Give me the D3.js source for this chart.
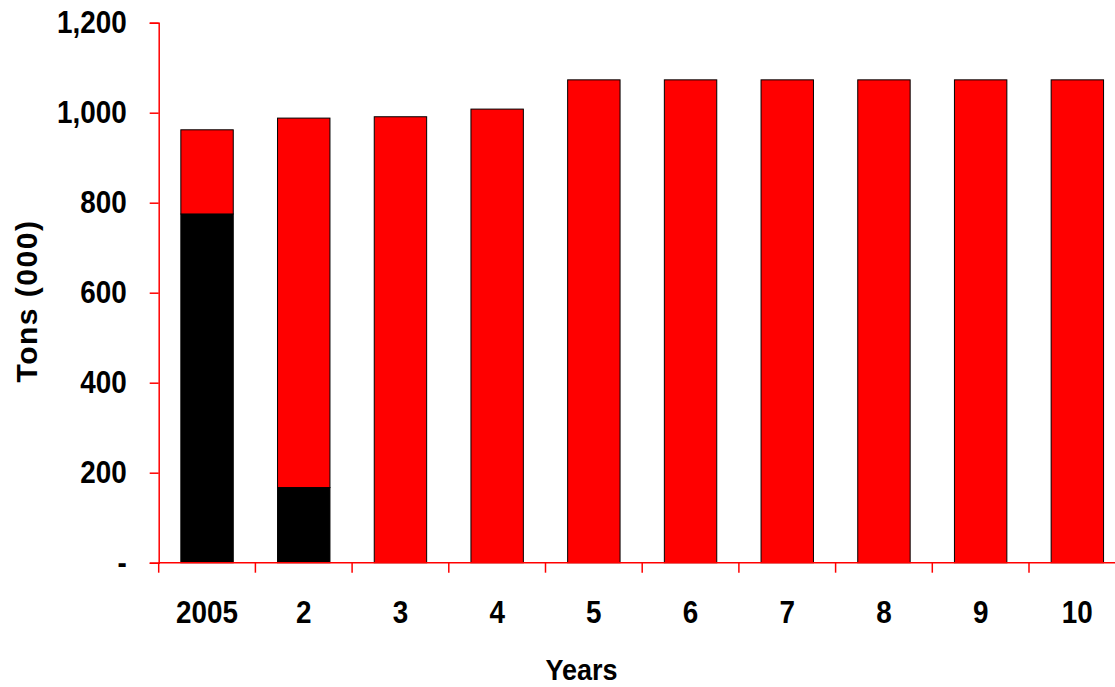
<!DOCTYPE html>
<html>
<head>
<meta charset="utf-8">
<script src="https://cdn.jsdelivr.net/npm/d3@7"></script>
<style>
  html, body { margin: 0; padding: 0; background: #fff; }
  svg { display: block; }
  .lbl, .ttl { font-family: "Liberation Sans", Arial, sans-serif; font-weight: bold; }
</style>
</head>
<body>
<script>
// Annual tonnage (thousands) by year
const years = ["2005", "2", "3", "4", "5", "6", "7", "8", "9", "10"];
const blackSeries = [775, 167, 0, 0, 0, 0, 0, 0, 0, 0];
const redSeries = [187, 821, 991, 1008, 1073, 1073, 1073, 1073, 1073, 1073];
const yTicks = [0, 200, 400, 600, 800, 1000, 1200];

const W = 1115, H = 687;
const x0 = 158.7, step = 96.7, yBase = 562.7, yTop = 22.7;
const squeeze = 0.87; // condensed look for the tick labels

const svg = d3.select("body").append("svg").attr("width", W).attr("height", H);

const x = d3.scaleBand()
  .domain(years)
  .range([x0, x0 + step * years.length])
  .paddingInner(0.458)
  .paddingOuter(0.229);

const y = d3.scaleLinear().domain([0, 1200]).range([yBase, yTop]);

const rows = years.map((yr, i) => ({ year: yr, black: blackSeries[i], red: redSeries[i] }));
const stacked = d3.stack().keys(["black", "red"])(rows);
const fills = { black: "#000000", red: "#ff0000" };

svg.append("g").selectAll("g")
  .data(stacked)
  .join("g")
  .attr("fill", d => fills[d.key])
  .selectAll("rect")
  .data(d => d.filter(p => p[1] - p[0] > 0))
  .join("rect")
  .attr("x", d => x(d.data.year))
  .attr("width", x.bandwidth())
  .attr("y", d => y(d[1]))
  .attr("height", d => y(d[0]) - y(d[1]))
  .attr("stroke", "#000")
  .attr("stroke-width", 1);

// Y axis
const yAxis = svg.append("g")
  .attr("transform", `translate(${x0},0)`)
  .call(d3.axisLeft(y).tickValues(yTicks).tickSize(9).tickPadding(23)
    .tickFormat(v => v === 0 ? "-" : d3.format(",")(v)));
yAxis.select(".domain").attr("stroke", "#ff0000").attr("stroke-width", 1.5);
yAxis.selectAll(".tick line").attr("stroke", "#ff0000").attr("stroke-width", 1.5);
yAxis.selectAll(".tick text")
  .attr("class", "lbl")
  .attr("font-size", 32)
  .attr("fill", "#000")
  .attr("x", 0)
  .attr("transform", `translate(-32,0) scale(${squeeze},1)`);

// X axis with ticks at band boundaries
const boundaries = years.map((yr, i) => x0 + step * i);
svg.append("line")
  .attr("x1", x0).attr("x2", W).attr("y1", yBase).attr("y2", yBase)
  .attr("stroke", "#ff0000").attr("stroke-width", 1.5);
svg.append("g").selectAll("line")
  .data(boundaries)
  .join("line")
  .attr("x1", d => d).attr("x2", d => d)
  .attr("y1", yBase).attr("y2", yBase + 10)
  .attr("stroke", "#ff0000").attr("stroke-width", 1.5);

svg.append("g").selectAll("text")
  .data(years)
  .join("text")
  .attr("class", "lbl")
  .attr("transform", d => `translate(${x(d) + x.bandwidth() / 2},622.7) scale(${squeeze},1)`)
  .attr("text-anchor", "middle")
  .attr("font-size", 32)
  .text(d => d);

// Axis titles
svg.append("text")
  .attr("class", "ttl")
  .attr("transform", "translate(581.5,680) scale(0.9,1)")
  .attr("text-anchor", "middle")
  .attr("font-size", 30)
  .text("Years");

svg.append("text")
  .attr("class", "ttl")
  .attr("transform", "translate(37,301) rotate(-90)")
  .attr("text-anchor", "middle")
  .attr("font-size", 30)
  .attr("letter-spacing", 1.5)
  .text("Tons (000)");
</script>
</body>
</html>
